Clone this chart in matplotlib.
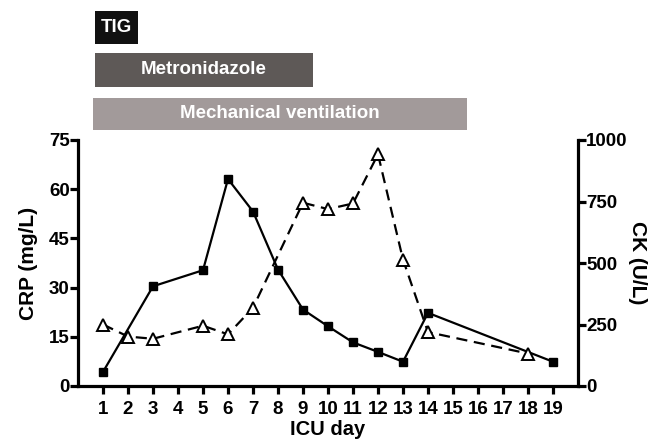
import matplotlib
matplotlib.use("Agg")
import matplotlib.pyplot as plt

# -------------------- DATA --------------------
crp_days = [1, 3, 5, 6, 7, 8, 9, 10, 11, 12, 13, 14, 19]
crp_vals = [4.3, 30.4, 35.3, 63.1, 53.2, 35.5, 23.3, 18.2, 13.3, 10.4, 7.4, 22.3, 7.4]

ck_days = [1, 2, 3, 5, 6, 7, 9, 10, 11, 12, 13, 14, 18]
ck_vals = [250, 201, 192, 245, 210, 318, 745, 719, 742, 942, 514, 219, 132]

# treatment bars: (label, start day, end day, colour)
treat_labels = ["TIG", "Metronidazole", "Mechanical ventilation"]
treat_start = [0.68, 0.68, 0.6]
treat_end = [2.4, 9.4, 15.56]
treat_colors = ["#111111", "#5e5957", "#a29a9a"]

x_ticks = list(range(1, 20))
crp_ticks = [0, 15, 30, 45, 60, 75]
ck_ticks = [0, 250, 500, 750, 1000]
# ----------------------------------------------

plt.rcParams['font.family'] = ['Liberation Sans', 'DejaVu Sans']
plt.rcParams['font.weight'] = 'bold'

W, H = 655, 442
fig = plt.figure(figsize=(W / 100, H / 100), dpi=100)

L, R, B, T = 78, 578, 386, 140
ax = fig.add_axes([L / W, 1 - B / H, (R - L) / W, (B - T) / H])
ax2 = ax.twinx()

lw = 2.3
ax.plot(crp_days, crp_vals, color='black', lw=1.6, marker='s', ms=5.5,
        mfc='black', mec='black', zorder=3)
ax2.plot(ck_days, ck_vals, color='black', lw=1.6, ls=(0, (5, 3)), marker='^',
         ms=9, mfc='white', mec='black', mew=1.4, zorder=3)

ax.set_xlim(0, 20)
ax.set_ylim(0, 75)
ax2.set_ylim(0, 1000)
ax.set_xticks(x_ticks)
ax.set_yticks(crp_ticks)
ax2.set_yticks(ck_ticks)

for a in (ax, ax2):
    a.spines['top'].set_visible(False)
    for s in ('left', 'right', 'bottom'):
        a.spines[s].set_linewidth(lw)
    a.tick_params(width=lw, length=5.5, labelsize=13.5, pad=0.5)
ax.spines['right'].set_visible(False)
ax2.spines['left'].set_visible(False)
ax2.spines['bottom'].set_visible(False)
ax.tick_params(axis='x', pad=5)

ax.set_xlabel("ICU day", fontsize=14.5, fontweight='bold', labelpad=2)
ax.set_ylabel("CRP (mg/L)", fontsize=15, fontweight='bold', labelpad=8)
ax2.set_ylabel("CK (U/L)", fontsize=15, fontweight='bold', rotation=270, labelpad=14)

# treatment timeline above the plot
axb = fig.add_axes([L / W, 1 - 135 / H, (R - L) / W, 135 / H])
axb.set_xlim(0, 20)
axb.set_ylim(135, 0)
axb.axis('off')
rows = [(11, 33), (53, 34), (98, 32)]
for (y0, h), lab, s, e, c in zip(rows, treat_labels, treat_start, treat_end, treat_colors):
    axb.broken_barh([(s, e - s)], (y0, h), facecolors=c)
    axb.text((s + e) / 2, y0 + h / 2, lab, color='white', fontsize=13.5,
             fontweight='bold', ha='center', va='center')

fig.savefig("out.png", dpi=100)
